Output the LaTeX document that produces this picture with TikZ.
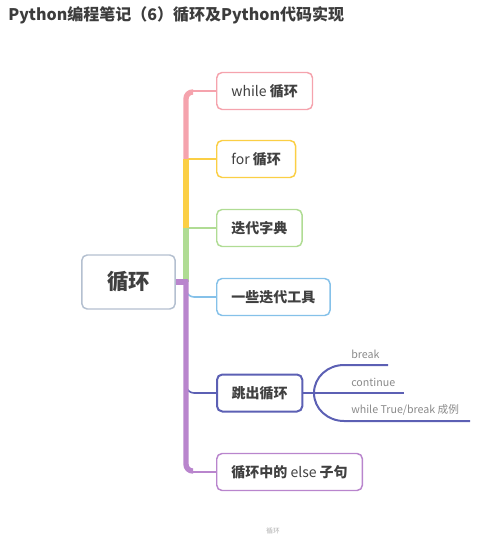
\documentclass[tikz,border=0pt]{standalone}
\usepackage{fontspec}
\setmainfont{Noto Sans CJK SC}
\usepackage{tikz}
\usetikzlibrary{positioning}
\definecolor{TitleGray}{HTML}{3C3C3C}
\definecolor{TextGray}{HTML}{404040}
\definecolor{SubGray}{HTML}{8A8A8A}
\definecolor{RootBlue}{HTML}{B4C0D0}
\definecolor{LoopPink}{HTML}{F5A3AD}
\definecolor{LoopYellow}{HTML}{FBCF45}
\definecolor{DictGreen}{HTML}{B0DC94}
\definecolor{ToolBlue}{HTML}{85C1E9}
\definecolor{BreakIndigo}{HTML}{5C60B4}
\definecolor{ElsePurple}{HTML}{B985CD}
\tikzset{
  rootbox/.style={rectangle, rounded corners=4pt, draw=RootBlue, line width=1.1pt, fill=white, minimum width=70pt, minimum height=40.5pt, font=\fontsize{16}{18}\selectfont\bfseries, text=TextGray},
  topicbox/.style={rectangle, rounded corners=4pt, draw=#1, line width=1.1pt, fill=white, minimum height=27.75pt, inner xsep=11pt, anchor=west, font=\fontsize{10.5}{12}\selectfont, text=TextGray},
  sublabel/.style={anchor=west, inner sep=0pt, font=\fontsize{8}{9}\selectfont, text=SubGray},
  trunk/.style={line width=4pt, #1, rounded corners=5},
  twig/.style={line width=1.2pt, #1, rounded corners=6}
}
\begin{document}
\begin{tikzpicture}[x=0.75pt, y=-0.75pt]
  \useasboundingbox (0,0) rectangle (500,539);

  % title
  \node[anchor=west, inner sep=0pt, font=\fontsize{12}{14}\selectfont\bfseries, text=TitleGray] (title) at (8,15) {Python编程笔记（6）循环及Python代码实现};

  % root and topics
  \node[rootbox] (root) at (128.5,282) {循环};
  \node[topicbox=LoopPink] (whileloop) at (216,91) {while \textbf{循环}};
  \node[topicbox=LoopYellow] (forloop) at (216,159) {for \textbf{循环}};
  \node[topicbox=DictGreen] (dict) at (216,228) {\textbf{迭代字典}};
  \node[topicbox=ToolBlue] (tools) at (216,297) {\textbf{一些迭代工具}};
  \node[topicbox=BreakIndigo, line width=1.5pt] (breakout) at (216,393) {\textbf{跳出循环}};
  \node[topicbox=ElsePurple] (elseclause) at (216,472) {\textbf{循环中的} else \textbf{子句}};

  % thin branches
  \draw[twig=LoopPink] (190,91) -- (whileloop.west);
  \draw[twig=LoopYellow] (186,159) -- (forloop.west);
  \draw[twig=DictGreen] (186,228) -- (dict.west);
  \draw[twig=ToolBlue] (186,283) |- (tools.west);
  \draw[twig=BreakIndigo] (186,380) |- (breakout.west);
  \draw[twig=ElsePurple] (190,472) -- (elseclause.west);

  % trunk
  \draw[trunk=LoopPink] (186,159) |- (193,92);
  \draw[trunk=LoopYellow] (186,228) -- (186,159);
  \draw[trunk=DictGreen] (186,282) -- (186,228);
  \draw[trunk=ElsePurple] (186,280) |- (193,471);
  \draw[line width=5pt, ElsePurple] (root.east) -- (188,282);

  % sub topics of breakout
  \coordinate (split) at (314,393);
  \coordinate (breakend) at (388,365);
  \coordinate (contend) at (404,393);
  \coordinate (whileend) at (470,421);
  \draw[line width=1.5pt, BreakIndigo] (breakout.east) -- (split);
  \draw[line width=1.5pt, BreakIndigo] (split) to[out=90, in=180] (344,365) -- (breakend);
  \draw[line width=1.5pt, BreakIndigo] (split) -- (contend);
  \draw[line width=1.5pt, BreakIndigo] (split) to[out=-90, in=180] (344,421) -- (whileend);
  \node[sublabel] (breaklabel) at (351,354) {break};
  \node[sublabel] (contlabel) at (351,382) {continue};
  \node[sublabel] (whilelabel) at (351,410) {while True/break 成例};

  % caption
  \node[inner sep=0pt, font=\fontsize{5}{6}\selectfont, text=SubGray!70] (caption) at (273,531) {循环};
\end{tikzpicture}
\end{document}
